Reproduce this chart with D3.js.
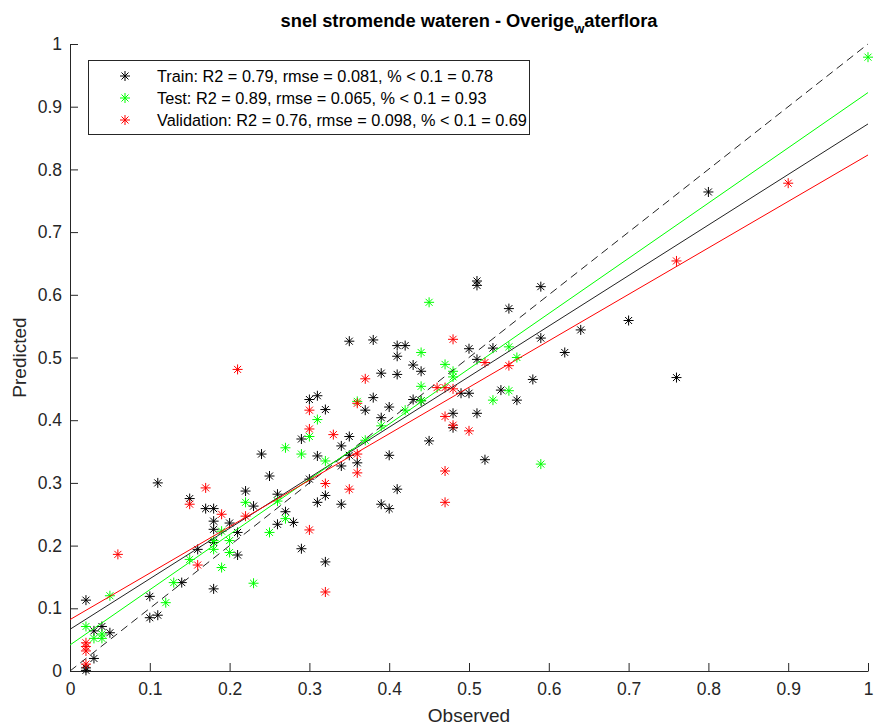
<!DOCTYPE html>
<html>
<head>
<meta charset="utf-8">
<script src="https://cdn.jsdelivr.net/npm/d3@7"></script>
<style>
  body { margin: 0; background: #fff; }
  svg { display: block; font-family: 'Liberation Sans', Arial, Helvetica, sans-serif; }
  .axis path, .axis line { stroke: #262626; }
  .axis text { fill: #262626; font-size: 17.5px; }
</style>
</head>
<body>
<svg id="chart"></svg>
<script>
// observed / predicted pairs
const trainPoints = [
  [0.02,0.113],[0.02,0.005],[0.02,0.001],[0.03,0.020],[0.03,0.064],[0.04,0.071],[0.05,0.061],
  [0.10,0.119],[0.10,0.085],[0.11,0.089],[0.11,0.300],[0.14,0.141],[0.15,0.275],[0.16,0.194],
  [0.17,0.259],[0.18,0.259],[0.18,0.205],[0.18,0.131],[0.18,0.239],[0.18,0.226],[0.20,0.236],
  [0.21,0.185],[0.21,0.221],[0.22,0.287],[0.23,0.263],[0.24,0.346],[0.25,0.311],[0.26,0.282],
  [0.26,0.234],[0.27,0.254],[0.28,0.237],[0.29,0.370],[0.29,0.195],[0.30,0.433],[0.31,0.439],
  [0.32,0.417],[0.30,0.306],[0.31,0.343],[0.31,0.269],[0.32,0.280],[0.32,0.174],[0.34,0.359],
  [0.34,0.327],[0.34,0.266],[0.35,0.374],[0.35,0.344],[0.35,0.526],[0.36,0.332],[0.37,0.416],
  [0.38,0.528],[0.38,0.436],[0.39,0.475],[0.39,0.404],[0.39,0.266],[0.40,0.421],[0.40,0.344],
  [0.40,0.259],[0.41,0.519],[0.41,0.502],[0.41,0.473],[0.41,0.290],[0.42,0.519],[0.43,0.488],
  [0.43,0.433],[0.44,0.478],[0.44,0.431],[0.45,0.367],[0.48,0.411],[0.48,0.388],[0.49,0.443],
  [0.50,0.443],[0.50,0.514],[0.51,0.497],[0.51,0.622],[0.51,0.615],[0.51,0.411],[0.52,0.337],
  [0.53,0.515],[0.54,0.448],[0.55,0.578],[0.56,0.432],[0.58,0.465],[0.59,0.613],[0.59,0.531],
  [0.62,0.508],[0.64,0.544],[0.70,0.559],[0.76,0.468],[0.80,0.764]
];
const testPoints = [
  [0.02,0.071],[0.03,0.052],[0.04,0.059],[0.04,0.052],[0.05,0.120],[0.12,0.109],[0.13,0.141],
  [0.15,0.178],[0.18,0.194],[0.18,0.208],[0.19,0.165],[0.19,0.223],[0.20,0.208],[0.20,0.189],
  [0.22,0.269],[0.23,0.140],[0.25,0.221],[0.26,0.271],[0.27,0.243],[0.27,0.356],[0.29,0.346],
  [0.30,0.374],[0.31,0.401],[0.32,0.335],[0.36,0.430],[0.37,0.368],[0.39,0.391],[0.42,0.416],
  [0.44,0.508],[0.44,0.454],[0.44,0.431],[0.45,0.588],[0.47,0.489],[0.48,0.478],[0.48,0.469],
  [0.53,0.432],[0.55,0.517],[0.55,0.447],[0.56,0.500],[0.59,0.330],[1.00,0.979]
];
const validationPoints = [
  [0.02,0.045],[0.02,0.039],[0.02,0.032],[0.02,0.011],[0.06,0.186],[0.15,0.266],[0.16,0.169],
  [0.17,0.292],[0.19,0.250],[0.21,0.481],[0.22,0.247],[0.30,0.416],[0.30,0.386],[0.30,0.225],
  [0.32,0.299],[0.32,0.126],[0.33,0.377],[0.35,0.290],[0.36,0.427],[0.36,0.346],[0.36,0.316],
  [0.37,0.466],[0.46,0.452],[0.47,0.452],[0.47,0.406],[0.47,0.319],[0.47,0.269],[0.48,0.529],
  [0.48,0.450],[0.48,0.392],[0.50,0.383],[0.52,0.492],[0.55,0.487],[0.76,0.654],[0.90,0.778]
];

// least squares fits shown in the figure: [intercept, slope]
const trainFit = [0.0665, 0.806];
const testFit = [0.0415, 0.881];
const validationFit = [0.082, 0.741];

const seriesNames = ['Train', 'Test', 'Validation'];
const seriesColors = ['#000000', '#00ff00', '#ff0000'];
const legendLabels = [
  'Train: R2 = 0.79, rmse = 0.081, % < 0.1 = 0.78',
  'Test: R2 = 0.89, rmse = 0.065, % < 0.1 = 0.93',
  'Validation: R2 = 0.76, rmse = 0.098, % < 0.1 = 0.69'
];
const xTicks = [0, 0.1, 0.2, 0.3, 0.4, 0.5, 0.6, 0.7, 0.8, 0.9, 1];
const yTicks = [0, 0.1, 0.2, 0.3, 0.4, 0.5, 0.6, 0.7, 0.8, 0.9, 1];

class FitScatter {

  constructor(_config, _series) {
    this.config = {
      parentElement: _config.parentElement,
      containerWidth: 874,
      containerHeight: 728,
      margin: {top: 44, right: 6, bottom: 57, left: 70}
    };
    this.series = _series;
    this.initVis();
  }

  initVis() {
    let vis = this;
    vis.width = vis.config.containerWidth - vis.config.margin.left - vis.config.margin.right;
    vis.height = vis.config.containerHeight - vis.config.margin.top - vis.config.margin.bottom;

    vis.xScale = d3.scaleLinear().domain([0, 1]).range([0, vis.width]);
    vis.yScale = d3.scaleLinear().domain([0, 1]).range([vis.height, 0]);

    vis.xAxis = d3.axisBottom(vis.xScale)
        .tickValues(xTicks)
        .tickSizeInner(-8)
        .tickSizeOuter(0)
        .tickPadding(12)
        .tickFormat(d => String(+d.toFixed(1)));

    vis.yAxis = d3.axisLeft(vis.yScale)
        .tickValues(yTicks)
        .tickSizeInner(-8)
        .tickSizeOuter(0)
        .tickPadding(8)
        .tickFormat(d => String(+d.toFixed(1)));

    vis.svg = d3.select(vis.config.parentElement)
        .attr('width', vis.config.containerWidth)
        .attr('height', vis.config.containerHeight);

    vis.chart = vis.svg.append('g')
        .attr('transform', `translate(${vis.config.margin.left},${vis.config.margin.top})`);

    // title, with the tex subscript that matlab made of the underscore
    const title = vis.svg.append('text')
        .attr('x', vis.config.margin.left + vis.width / 2)
        .attr('y', 27)
        .attr('text-anchor', 'middle')
        .style('font-size', '18.3px')
        .style('font-weight', 'bold')
        .style('fill', '#000');
    title.append('tspan').text('snel stromende wateren - Overige');
    title.append('tspan').attr('dy', 6).style('font-size', '13px').text('w');
    title.append('tspan').attr('dy', -6).text('aterflora');

    vis.svg.append('text')
        .attr('x', vis.config.margin.left + vis.width / 2)
        .attr('y', 722)
        .attr('text-anchor', 'middle')
        .style('font-size', '19px')
        .style('fill', '#262626')
        .text('Observed');

    vis.svg.append('text')
        .attr('transform', `translate(26,${vis.config.margin.top + vis.height / 2}) rotate(-90)`)
        .attr('text-anchor', 'middle')
        .style('font-size', '19px')
        .style('fill', '#262626')
        .text('Predicted');

    // matlab '*' marker
    vis.starPath = 'M0,-5V5M-5,0H5M-3.5,-3.5L3.5,3.5M-3.5,3.5L3.5,-3.5';
  }

  renderVis() {
    let vis = this;

    vis.xAxisG = vis.chart.append('g')
        .attr('class', 'axis x-axis')
        .attr('transform', `translate(0,${vis.height})`)
        .call(vis.xAxis);

    vis.yAxisG = vis.chart.append('g')
        .attr('class', 'axis y-axis')
        .call(vis.yAxis);

    vis.svg.selectAll('.axis text').style('font-family', null);

    // points first, fit lines on top
    vis.series.forEach(s => {
      vis.chart.selectAll(`.pt-${s.name}`)
        .data(s.points)
      .join('path')
        .attr('class', `pt-${s.name}`)
        .attr('transform', d => `translate(${vis.xScale(d[0])},${vis.yScale(d[1])})`)
        .attr('d', vis.starPath)
        .attr('fill', 'none')
        .attr('stroke', s.color)
        .attr('stroke-width', 1);
    });

    vis.chart.append('line')
        .attr('x1', vis.xScale(0)).attr('y1', vis.yScale(0))
        .attr('x2', vis.xScale(1)).attr('y2', vis.yScale(1))
        .attr('stroke', '#222')
        .attr('stroke-width', 1)
        .attr('stroke-dasharray', '8,5');

    vis.series.forEach(s => {
      const f = x => s.fit[0] + s.fit[1] * x;
      vis.chart.append('line')
        .attr('x1', vis.xScale(0)).attr('y1', vis.yScale(f(0)))
        .attr('x2', vis.xScale(1)).attr('y2', vis.yScale(f(1)))
        .attr('stroke', s.color === '#000000' ? '#222' : s.color)
        .attr('stroke-width', 1);
    });

    // legend
    const legend = vis.svg.append('g').attr('class', 'legend');
    legend.append('rect')
        .attr('x', 88.5).attr('y', 60.5)
        .attr('width', 441).attr('height', 74)
        .attr('fill', '#fff')
        .attr('stroke', '#262626')
        .attr('stroke-width', 1);
    vis.series.forEach((s, i) => {
      const y = 76 + i * 22;
      legend.append('path')
          .attr('transform', `translate(125,${y})`)
          .attr('d', vis.starPath)
          .attr('fill', 'none')
          .attr('stroke', s.color)
          .attr('stroke-width', 1);
      legend.append('text')
          .attr('x', 157)
          .attr('y', y)
          .attr('dy', '0.36em')
          .style('font-size', '16.3px')
          .style('fill', '#000')
          .text(s.label);
    });
  }
}

const series = [
  {name: seriesNames[0], color: seriesColors[0], points: trainPoints, fit: trainFit, label: legendLabels[0]},
  {name: seriesNames[1], color: seriesColors[1], points: testPoints, fit: testFit, label: legendLabels[1]},
  {name: seriesNames[2], color: seriesColors[2], points: validationPoints, fit: validationFit, label: legendLabels[2]}
];

const chart = new FitScatter({parentElement: '#chart'}, series);
chart.renderVis();
</script>
</body>
</html>
